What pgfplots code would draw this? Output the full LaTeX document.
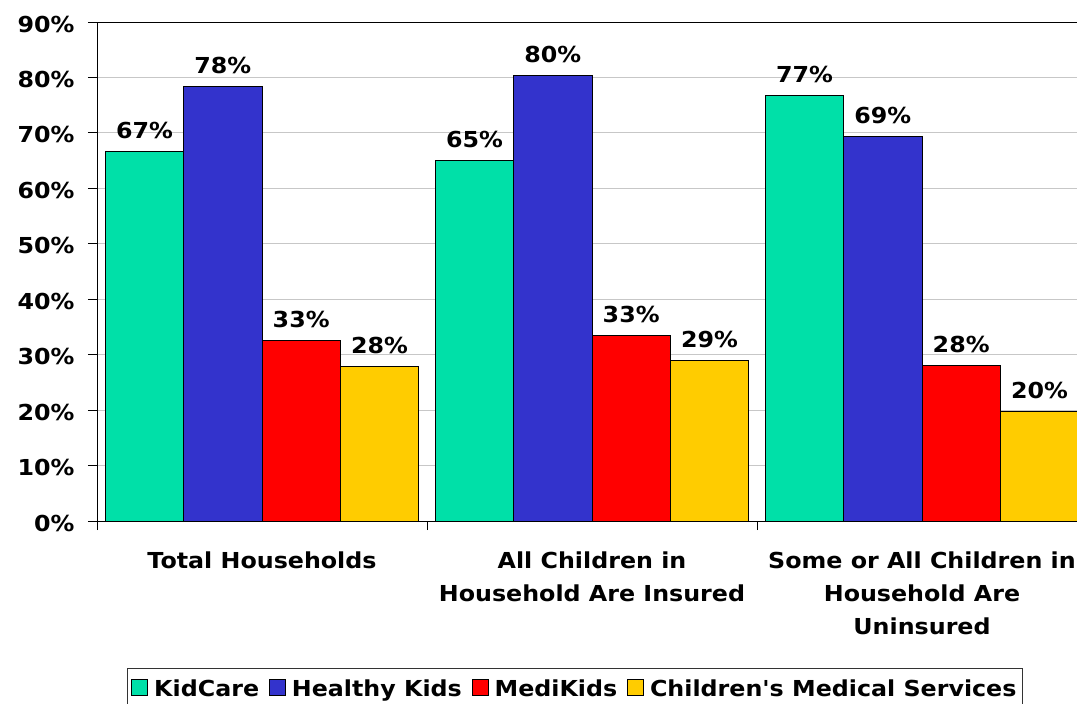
\documentclass[border=0pt]{standalone}
\usepackage{pgfplots}
\pgfplotsset{compat=1.18}
\usepackage{fontspec}
\setmainfont{DejaVu Sans}[Ligatures=TeXOff, FakeStretch=1.08]
\definecolor{kc}{RGB}{0,224,168}
\definecolor{hk}{RGB}{51,51,204}
\definecolor{mk}{RGB}{255,0,0}
\definecolor{cms}{RGB}{255,204,0}
\newcommand{\lab}{\bfseries\fontsize{22}{33}\selectfont}
\begin{document}
\begin{tikzpicture}[x=1pt,y=1pt]
\begin{axis}[
  at={(97pt,-521pt)}, anchor=south west,
  scale only axis, width=990pt, height=499pt,
  xmin=-0.5, xmax=2.5, ymin=0, ymax=90,
  ybar=0pt, bar width=78.3pt,
  ytick={0,10,...,90},
  yticklabels={0\%,10\%,20\%,30\%,40\%,50\%,60\%,70\%,80\%,90\%},
  yticklabel style={font=\lab, xshift=-10pt, yshift=-2pt},
  ymajorgrids, major grid style={draw=black!22, line width=0.8pt},
  tick align=outside, major tick length=9pt,
  tick style={black, line width=0.8pt},
  xtick pos=bottom, ytick pos=left,
  xtick={-0.5,0.5,1.5,2.5}, xticklabels={},
  extra x ticks={0,1,2},
  extra x tick labels={Total Households, All Children in\\Household Are Insured, Some or All Children in\\Household Are\\Uninsured},
  extra x tick style={major tick length=0pt, xticklabel style={font=\lab, align=center, anchor=north, yshift=-27pt}},
  axis line style={black, line width=0.8pt},
  nodes near coords={\pgfmathprintnumber[fixed,precision=0]{\pgfplotspointmeta}\%},
  every node near coord/.append style={font=\lab, yshift=9pt},
  /pgf/number format/assume math mode=true,
  legend columns=4,
  legend style={at={(0.4828,-0.2946)}, anchor=north, draw=black!80, line width=0.8pt, font=\lab,
    inner xsep=4pt, inner ysep=9pt,
    /tikz/every odd column/.append style={column sep=4pt},
    /tikz/every even column/.append style={column sep=8pt}},
  legend image code/.code={\draw[#1, draw=black, line width=0.8pt] (0pt,-7pt) rectangle (16pt,9pt);},
]
\addplot[fill=kc, draw=black, line width=0.8pt] coordinates {(0,66.7) (1,65.1) (2,76.8)};
\addplot[fill=hk, draw=black, line width=0.8pt] coordinates {(0,78.4) (1,80.4) (2,69.3)};
\addplot[fill=mk, draw=black, line width=0.8pt] coordinates {(0,32.6) (1,33.4) (2,28.0)};
\addplot[fill=cms, draw=black, line width=0.8pt] coordinates {(0,27.8) (1,29.0) (2,19.7)};
\legend{KidCare, Healthy Kids, MediKids, Children's Medical Services}
\end{axis}
\pgfresetboundingbox
\path (0,0) rectangle (1077pt,-704pt);
\end{tikzpicture}
\end{document}
